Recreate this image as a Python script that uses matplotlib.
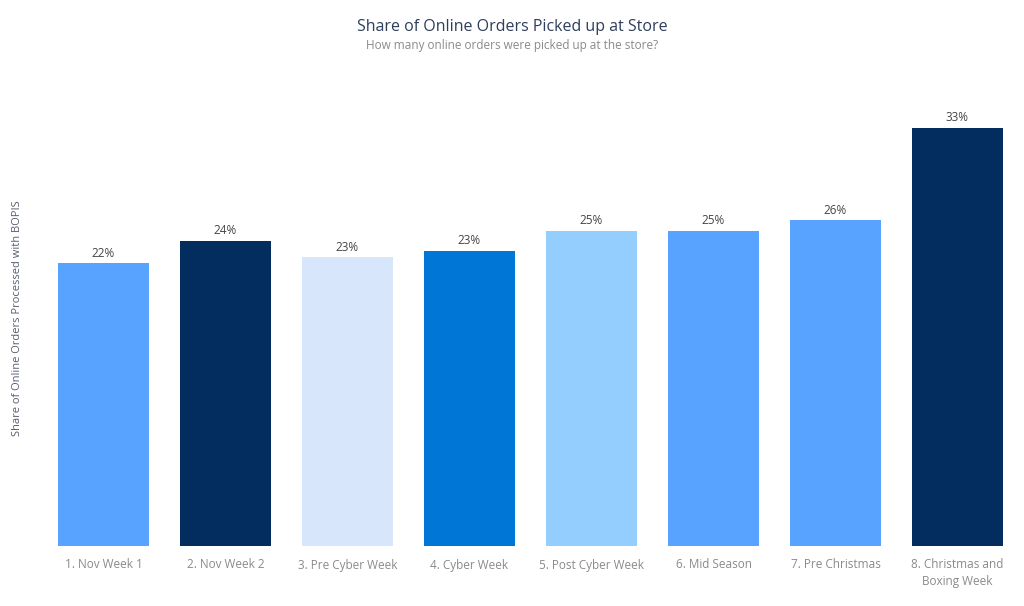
import matplotlib
matplotlib.use("Agg")
import matplotlib.pyplot as plt

categories = ["1. Nov Week 1", "2. Nov Week 2", "3. Pre Cyber Week", "4. Cyber Week",
              "5. Post Cyber Week", "6. Mid Season", "7. Pre Christmas",
              "8. Christmas and\nBoxing Week"]
values = [22.3, 24.1, 22.8, 23.3, 24.9, 24.9, 25.7, 33.0]
labels = ["22%", "24%", "23%", "23%", "25%", "25%", "26%", "33%"]
colors = ["#58A3FF", "#032C5F", "#D8E6FC", "#0076D7", "#93CEFF", "#58A3FF", "#58A3FF", "#032C5F"]

plt.rcParams['font.family'] = ['Open Sans', 'DejaVu Sans']

W, H = 1024, 606
fig = plt.figure(figsize=(W/100, H/100), dpi=100)
ax = fig.add_axes([42.5/W, (H-546)/H, (1018.5-42.5)/W, (546-90)/H])

x = list(range(len(categories)))
ax.bar(x, values, width=0.75, color=colors)
ax.set_xlim(-0.5, len(categories)-0.5)
ax.set_ylim(0, 456/12.67)
for xi, v, lab in zip(x, values, labels):
    ax.annotate(lab, (xi, v), xytext=(0, 2.5), textcoords="offset points",
                ha="center", va="bottom", fontsize=8.5, color="#444444")

ax.set_xticks(x)
ax.set_xticklabels(categories, fontsize=8.5, color="#8a8a8a", linespacing=1.3)
ax.tick_params(axis="x", length=0, pad=9)
ax.set_yticks([])
for s in ax.spines.values():
    s.set_visible(False)

fig.text(18/W, 1-(318/H), "Share of Online Orders Processed with BOPIS", rotation=90,
         ha="center", va="center", fontsize=8, color="#555e6e")
fig.text(512/W, 1-(27/H), "Share of Online Orders Picked up at Store", ha="center", va="center",
         fontsize=11.5, color="#2e3e5c")
fig.text(512/W, 1-(46/H), "How many online orders were picked up at the store?", ha="center", va="center",
         fontsize=8.5, color="#8a8a8a")

fig.savefig("out.png", dpi=100)
